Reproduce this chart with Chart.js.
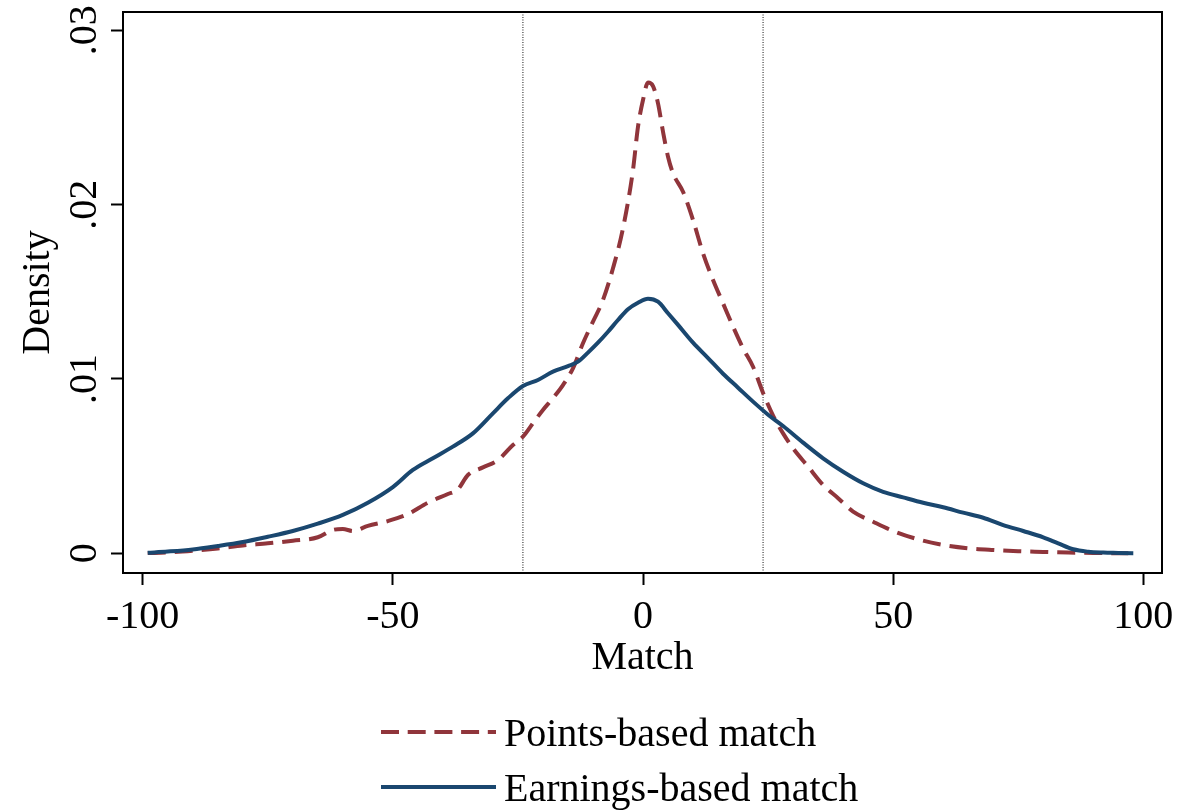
<!DOCTYPE html>
<html>
<head>
<meta charset="utf-8">
<script src="https://cdn.jsdelivr.net/npm/chart.js@4/dist/chart.umd.min.js"></script>
<style>
  html, body { margin: 0; padding: 0; background: #fff; }
  #wrap { position: relative; width: 1179px; height: 812px; }
  canvas { position: absolute; left: 0; top: 0; }
  .leg { position: absolute; left: 380px; font-family: "Liberation Serif", "Times New Roman", serif; font-size: 40px; line-height: 40px; color: #000; white-space: nowrap; }
  .leg svg { position: absolute; left: 0; }
  .leg span { position: absolute; left: 124px; top: 0; }
</style>
</head>
<body>
<div id="wrap">
  <canvas id="c" width="1179" height="812"></canvas>
  <div class="leg" style="top:713px;">
    <svg width="118" height="40" style="top:0"><line x1="1" y1="19" x2="116" y2="19" stroke="#90353b" stroke-width="4" stroke-dasharray="18 8.7"/></svg>
    <span>Points-based match</span>
  </div>
  <div class="leg" style="top:768px;">
    <svg width="118" height="40" style="top:0"><line x1="1" y1="19" x2="116" y2="19" stroke="#1a476f" stroke-width="4"/></svg>
    <span>Earnings-based match</span>
  </div>
</div>
<script>
// ---- data ----
const pointsX = [-99,-95,-90,-85,-80,-75,-70,-65,-62,-60,-58,-55,-51,-47,-43,-39,-37,-35,-32,-29,-26,-24,-22,-20,-18,-16,-14,-12,-10,-8,-6,-4,-2,-1,0,1,2,3,4,5,6,8,10,12,14,16,18,20,22,24,26,28,30,33,36,39,42,46,50,55,60,65,70,75,80,85,90,97];
const pointsDensity = [0.00001,0.00005,0.00015,0.00028,0.00045,0.00057,0.00072,0.00092,0.00134,0.00139,0.00128,0.00157,0.00185,0.00225,0.0029,0.0034,0.00367,0.00449,0.00493,0.00535,0.00621,0.00669,0.00746,0.00822,0.0089,0.00965,0.01061,0.01205,0.01329,0.01453,0.01635,0.01864,0.02199,0.02447,0.026,0.0270,0.0268,0.02581,0.02418,0.02275,0.0218,0.02074,0.01912,0.01721,0.01568,0.01434,0.013,0.01176,0.0107,0.0092,0.0079,0.00688,0.00602,0.00497,0.00392,0.00316,0.00239,0.00181,0.00128,0.0008,0.00048,0.00029,0.00019,0.00012,0.00008,0.00004,0.00002,0];

const earningsX = [-99,-95,-90,-85,-80,-75,-70,-65,-60,-55,-50,-46,-42,-38,-34,-30,-27,-24,-21,-18,-15,-13,-11,-9,-7,-5,-3,-1,1,3,5,7,10,13,16,19,22,25,28,32,36,40,44,48,52,56,60,64,68,72,76,80,83,86,89,92,95,98];
const earningsDensity = [0.00003,0.0001,0.00022,0.00042,0.00065,0.00095,0.00128,0.0017,0.0022,0.0029,0.0038,0.00478,0.00545,0.00612,0.00688,0.00803,0.00889,0.0096,0.00994,0.01042,0.01074,0.01099,0.01151,0.01208,0.01271,0.01338,0.014,0.01437,0.0146,0.01443,0.01377,0.0131,0.01208,0.0112,0.0103,0.0095,0.0087,0.00795,0.0073,0.00635,0.00545,0.00468,0.00402,0.00353,0.00321,0.0029,0.00264,0.00233,0.00204,0.00162,0.00128,0.00092,0.00057,0.00023,0.00009,0.00004,0.00002,0];

const cutoffLines = [-24, 24];
const xTickValues = [-100, -50, 0, 50, 100];
const yTickValues = [0, 0.01, 0.02, 0.03];
const seriesNames = ['Points-based match', 'Earnings-based match'];
const xTitle = 'Match';
const yTitle = 'Density';

// ---- chart ----
const X_MIN = -103.94, X_MAX = 103.74;
const Y_MIN = -0.00113, Y_MAX = 0.03105;
const FONT = { family: '"Liberation Serif", "Times New Roman", serif', size: 40 };

const zip = (xs, ys) => xs.map((x, i) => ({ x: x, y: ys[i] }));

const datasets = [
  {
    label: seriesNames[1],
    data: zip(earningsX, earningsDensity),
    borderColor: '#1a476f',
    borderWidth: 4,
    pointRadius: 0,
    cubicInterpolationMode: 'monotone',
    fill: false,
    order: 0
  },
  {
    label: seriesNames[0],
    data: zip(pointsX, pointsDensity),
    borderColor: '#90353b',
    borderWidth: 4,
    borderDash: [18, 9],
    pointRadius: 0,
    cubicInterpolationMode: 'monotone',
    fill: false,
    order: 1
  }
];
cutoffLines.forEach(v => {
  datasets.push({
    label: 'cutoff',
    data: [{ x: v, y: Y_MIN }, { x: v, y: Y_MAX }],
    borderColor: '#111',
    borderWidth: 1,
    borderDash: [1, 1.5],
    pointRadius: 0,
    fill: false,
    order: 2
  });
});

const frame = {
  id: 'frame',
  afterDatasetsDraw(chart) {
    const { ctx, chartArea: a } = chart;
    ctx.save();
    ctx.strokeStyle = '#000';
    ctx.lineWidth = 2;
    ctx.strokeRect(a.left, a.top, a.right - a.left, a.bottom - a.top);
    ctx.restore();
  }
};

new Chart(document.getElementById('c'), {
  type: 'line',
  data: { datasets },
  plugins: [frame],
  options: {
    responsive: false,
    animation: false,
    devicePixelRatio: 1,
    layout: { padding: { left: 0, top: 12, right: 17, bottom: 129 } },
    plugins: { legend: { display: false }, tooltip: { enabled: false } },
    scales: {
      x: {
        type: 'linear',
        min: X_MIN, max: X_MAX,
        afterBuildTicks: s => { s.ticks = xTickValues.map(v => ({ value: v })); },
        afterFit: s => { s.height = 110; s.paddingLeft = 0; s.paddingRight = 0; },
        grid: { drawOnChartArea: false, drawTicks: true, tickLength: 12, tickWidth: 2, tickColor: '#000' },
        border: { display: true, color: '#000', width: 2 },
        ticks: { color: '#000', font: FONT, padding: 8, maxRotation: 0, autoSkip: false,
                 callback: v => String(v) },
        title: { display: true, text: xTitle, color: '#000', font: FONT, padding: { top: 0, bottom: 1 } }
      },
      y: {
        type: 'linear',
        min: Y_MIN, max: Y_MAX,
        afterBuildTicks: s => { s.ticks = yTickValues.map(v => ({ value: v })); },
        afterFit: s => { s.width = 123; s.paddingTop = 0; s.paddingBottom = 0; },
        grid: { drawOnChartArea: false, drawTicks: true, tickLength: 12, tickWidth: 2, tickColor: '#000' },
        border: { display: true, color: '#000', width: 2 },
        ticks: { color: '#000', font: FONT, padding: 1, minRotation: 90, maxRotation: 90, crossAlign: 'center', autoSkip: false,
                 callback: v => (v === 0 ? '0' : v.toFixed(2).replace(/^0/, '')) },
        title: { display: true, text: yTitle, color: '#000', font: FONT, padding: { top: 14, bottom: 0 } }
      }
    }
  }
});
</script>
</body>
</html>
